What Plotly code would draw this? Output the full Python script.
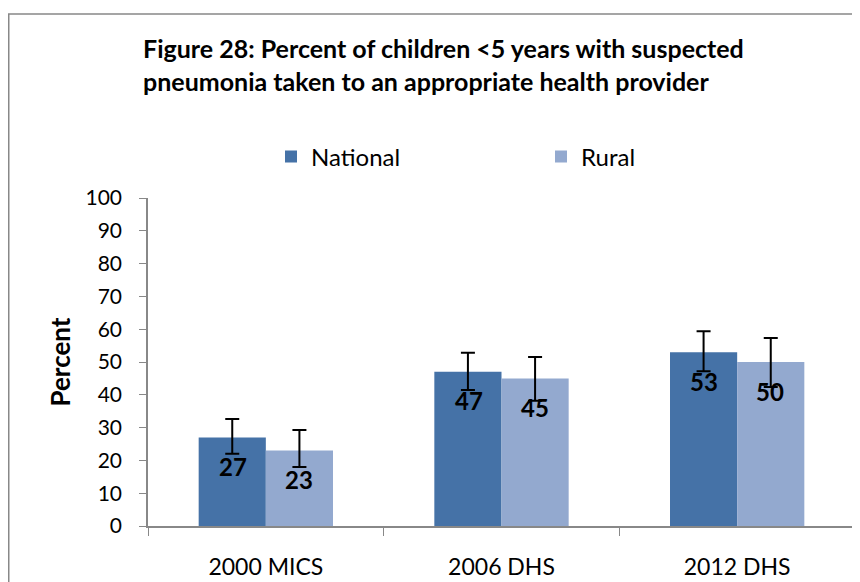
import plotly.graph_objects as go

categories = ["2000 MICS", "2006 DHS", "2012 DHS"]
national = [27, 47, 53]
rural = [23, 45, 50]
national_err_plus = [5.6, 5.8, 6.4]
national_err_minus = [5.0, 5.5, 5.8]
rural_err_plus = [6.3, 6.5, 7.3]
rural_err_minus = [5.0, 6.8, 7.6]
yticks = [0, 10, 20, 30, 40, 50, 60, 70, 80, 90, 100]

FONT = "Lato"
c_nat = "#4572A7"
c_rur = "#93A9CF"

# page body has an 8px margin; figure is sized to fill the rest of the window
W, H = 852, 574
L, R, T, B = 140, 5, 190, 56
PW, PH = W - L - R, H - T - B

fig = go.Figure()
fig.add_trace(go.Bar(
    name="National", x=categories, y=national, marker_color=c_nat,
    marker_line_width=0, legend="legend",
    error_y=dict(type="data", symmetric=False, array=national_err_plus,
                 arrayminus=national_err_minus, color="black", thickness=2, width=7),
))
fig.add_trace(go.Bar(
    name="Rural", x=categories, y=rural, marker_color=c_rur,
    marker_line_width=0, legend="legend2",
    error_y=dict(type="data", symmetric=False, array=rural_err_plus,
                 arrayminus=rural_err_minus, color="black", thickness=2, width=7),
))

annotations = []
for vals, shift in ((national, -33), (rural, 33)):
    for c, v in zip(categories, vals):
        annotations.append(dict(
            x=c, y=v, xref="x", yref="y", text=f"<b>{v}</b>", showarrow=False,
            xshift=shift, yshift=-29, font=dict(family=FONT, size=24, color="black"),
        ))

leg_common = dict(orientation="h", xanchor="left", y=(H - B - 149) / PH, yanchor="middle",
                  font=dict(family=FONT, size=24, color="black"),
                  bgcolor="rgba(0,0,0,0)")

fig.update_layout(
    width=W, height=H,
    margin=dict(l=L, r=R, t=T, b=B, autoexpand=False),
    paper_bgcolor="white", plot_bgcolor="white",
    barmode="group", bargap=0.43, bargroupgap=0,
    font=dict(family=FONT, size=20, color="black"),
    title=dict(
        text="<b>Figure 28: Percent of children &lt;5 years with suspected<br>pneumonia taken to an appropriate health provider</b>",
        x=135 / W, xanchor="left", y=1 - 50 / H, yanchor="top",
        font=dict(family=FONT, size=25, color="black"),
    ),
    legend=dict(x=(263 - L) / PW, **leg_common),
    legend2=dict(x=(533 - L) / PW, **leg_common),
    showlegend=True,
    annotations=annotations,
    xaxis=dict(
        showline=True, linecolor="#888888", linewidth=1.5,
        ticks="outside", tickson="boundaries", ticklen=8, tickcolor="#888888",
        tickfont=dict(family=FONT, size=23, color="black"),
        ticklabelstandoff=20, automargin=False,
        showgrid=False,
    ),
    yaxis=dict(
        range=[0, 100], tickvals=yticks, showline=True, linecolor="#888888",
        linewidth=1.5, ticks="outside", ticklen=7, tickcolor="#888888",
        showgrid=False, zeroline=False, automargin=False,
        ticklabelstandoff=13,
        tickfont=dict(family=FONT, size=21, color="black"),
        title=dict(text="<b>Percent</b>", font=dict(family=FONT, size=26, color="black"),
                   standoff=7),
    ),
    shapes=[dict(type="rect", xref="paper", yref="paper",
                 x0=(0.75 - L) / PW, x1=1.2, y0=-0.5, y1=(H - B - 6) / PH,
                 line=dict(color="#888888", width=1.5), fillcolor="rgba(0,0,0,0)",
                 layer="below")],
)

fig.write_html("out.html")
